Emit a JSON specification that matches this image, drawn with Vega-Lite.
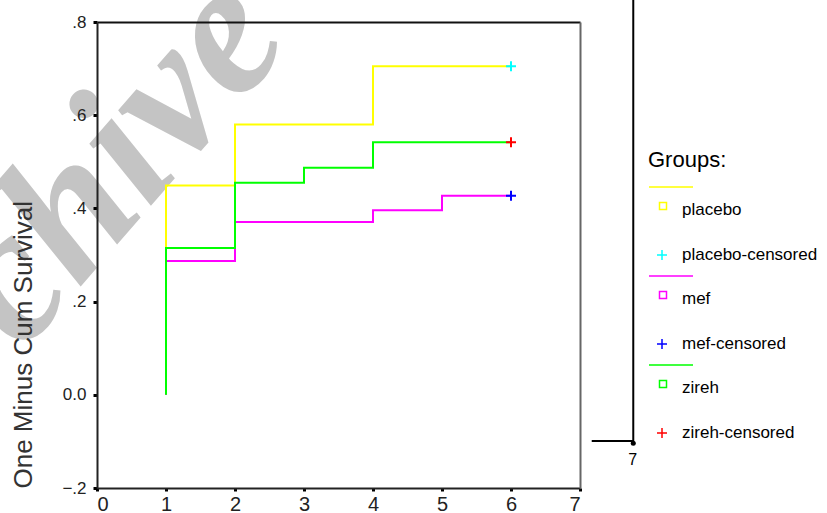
{
  "$schema": "https://vega.github.io/schema/vega-lite/v6.json",
  "autosize": {"type": "none"},
  "width": 483,
  "height": 466,
  "padding": {"left": 97, "top": 22, "right": 247, "bottom": 25},
  "background": "white",
  "config": {"view": {"stroke": null}, "font": "Liberation Sans"},
  "datasets": {
    "steps": [
      {"group": "placebo", "k": 0, "time": 1, "value": 0},
      {"group": "placebo", "k": 1, "time": 1, "value": 0.449},
      {"group": "placebo", "k": 2, "time": 2, "value": 0.58},
      {"group": "placebo", "k": 3, "time": 4, "value": 0.705},
      {"group": "placebo", "k": 4, "time": 6, "value": 0.705},
      {"group": "mef", "k": 0, "time": 1, "value": 0},
      {"group": "mef", "k": 1, "time": 1, "value": 0.287},
      {"group": "mef", "k": 2, "time": 2, "value": 0.371},
      {"group": "mef", "k": 3, "time": 4, "value": 0.396},
      {"group": "mef", "k": 4, "time": 5, "value": 0.427},
      {"group": "mef", "k": 5, "time": 6, "value": 0.427},
      {"group": "zireh", "k": 0, "time": 1, "value": 0},
      {"group": "zireh", "k": 1, "time": 1, "value": 0.315},
      {"group": "zireh", "k": 2, "time": 2, "value": 0.455},
      {"group": "zireh", "k": 3, "time": 3, "value": 0.487},
      {"group": "zireh", "k": 4, "time": 4, "value": 0.542},
      {"group": "zireh", "k": 5, "time": 6, "value": 0.542}
    ],
    "censored": [
      {"item": "placebo-censored", "time": 6, "value": 0.705},
      {"item": "mef-censored", "time": 6, "value": 0.427},
      {"item": "zireh-censored", "time": 6, "value": 0.542}
    ]
  },
  "layer": [
    {
      "data": {"values": [{"label": "Archive"}]},
      "mark": {"type": "text", "font": "Liberation Serif", "fontStyle": "italic", "fontWeight": "bold", "fontSize": 190, "angle": -49, "align": "left", "baseline": "alphabetic", "color": "#c4c4c4", "clip": false},
      "encoding": {
        "x": {"datum": -2.98, "type": "quantitative", "axis": null},
        "y": {"datum": -0.235, "type": "quantitative", "axis": null},
        "text": {"field": "label"}
      }
    },
    {
      "data": {"name": "steps"},
      "mark": {"type": "line", "interpolate": "step-after", "strokeWidth": 2},
      "encoding": {
        "x": {
          "field": "time", "type": "quantitative",
          "scale": {"domain": [0, 7], "nice": false, "zero": false},
          "axis": {"values": [0, 1, 2, 3, 4, 5, 6, 7], "format": "d", "title": null, "grid": false, "domainColor": "#222", "domainWidth": 2, "tickColor": "#000", "tickSize": 3, "tickWidth": 3, "labelFontSize": 20, "labelColor": "#222", "labelPadding": 3, "zindex": 1}
        },
        "y": {
          "field": "value", "type": "quantitative",
          "scale": {"domain": [-0.2, 0.8], "nice": false, "zero": false},
          "axis": {"values": [-0.2, 0, 0.2, 0.4, 0.6, 0.8], "labelExpr": "datum.value == 0 ? '0.0' : replace(format(datum.value, '.1f'), '0.', '.')", "title": "One Minus Cum Survival", "titleFontSize": 26, "titleFontWeight": "normal", "titleColor": "#333", "titleAnchor": "start", "titlePadding": 25, "grid": false, "domainColor": "#222", "domainWidth": 2, "tickColor": "#000", "tickSize": 4, "tickWidth": 3, "labelFontSize": 17, "labelColor": "#222", "labelPadding": 7, "zindex": 1}
        },
        "stroke": {"field": "group", "type": "nominal", "scale": {"domain": ["placebo", "mef", "zireh"], "range": ["#ffff00", "#ff00ff", "#00ff00"]}, "legend": null},
        "order": {"field": "k"}
      }
    },
    {
      "data": {"name": "censored"},
      "mark": {"type": "point", "filled": false, "size": 400, "strokeWidth": 2, "opacity": 1},
      "encoding": {
        "x": {"field": "time", "type": "quantitative", "axis": {"orient": "top", "labels": false, "ticks": false, "title": null, "grid": false, "domainColor": "#111", "domainWidth": 2, "zindex": 1}},
        "y": {"field": "value", "type": "quantitative", "axis": {"orient": "right", "labels": false, "ticks": false, "title": null, "grid": false, "domainColor": "#666", "domainWidth": 2, "zindex": 1}},
        "color": {
          "field": "item", "type": "nominal",
          "scale": {"domain": ["placebo", "placebo-censored", "mef", "mef-censored", "zireh", "zireh-censored"], "range": ["#ffff00", "#00ffff", "#ff00ff", "#0000ff", "#00ff00", "#ff0000"]},
          "legend": {"orient": "none", "legendX": 551, "legendY": 128, "title": "Groups:", "titleFontSize": 22, "titleFontWeight": "normal", "titleColor": "#000", "titlePadding": 27, "labelFontSize": 17, "labelColor": "#000", "labelOffset": 9, "symbolSize": 400, "symbolOffset": 3, "symbolStrokeWidth": 1.5, "rowPadding": 10, "symbolOpacity": 1}
        },
        "shape": {
          "field": "item", "type": "nominal",
          "scale": {"domain": ["placebo", "placebo-censored", "mef", "mef-censored", "zireh", "zireh-censored"], "range": ["M-0.25,-0.75H0.45V-0.05H-0.25ZM-1.3,-2.3H3.1", "M-0.5,0H0.5M0,-0.5V0.5M0,-2.38M0,-2.38", "M-0.25,-0.75H0.45V-0.05H-0.25ZM-1.3,-2.3H3.1", "M-0.5,0H0.5M0,-0.5V0.5M0,-2.38M0,-2.38", "M-0.25,-0.75H0.45V-0.05H-0.25ZM-1.3,-2.3H3.1", "M-0.5,0H0.5M0,-0.5V0.5M0,-2.38M0,-2.38"]},
          "legend": {"orient": "none", "legendX": 551, "legendY": 128, "title": "Groups:", "titleFontSize": 22, "titleFontWeight": "normal", "titleColor": "#000", "titlePadding": 27, "labelFontSize": 17, "labelColor": "#000", "labelOffset": 9, "symbolSize": 400, "symbolOffset": 3, "symbolStrokeWidth": 1.5, "rowPadding": 10, "symbolOpacity": 1}
        }
      }
    },
    {
      "data": {"values": [{"a": 1}]},
      "mark": {"type": "rule", "color": "#000", "strokeWidth": 2, "clip": false},
      "encoding": {
        "x": {"datum": 7.772, "type": "quantitative", "axis": null},
        "y": {"datum": 0.9, "type": "quantitative", "axis": null},
        "y2": {"datum": -0.099}
      }
    },
    {
      "data": {"values": [{"a": 1}]},
      "mark": {"type": "rule", "color": "#000", "strokeWidth": 2, "clip": false},
      "encoding": {
        "x": {"datum": 7.17, "type": "quantitative", "axis": null},
        "x2": {"datum": 7.772},
        "y": {"datum": -0.099, "type": "quantitative", "axis": null}
      }
    },
    {
      "data": {"values": [{"t": "7"}]},
      "mark": {"type": "point", "filled": true, "color": "#000", "size": 25, "opacity": 1, "clip": false},
      "encoding": {
        "x": {"datum": 7.772, "type": "quantitative", "axis": null},
        "y": {"datum": -0.104, "type": "quantitative", "axis": null}
      }
    },
    {
      "data": {"values": [{"t": "7"}]},
      "mark": {"type": "text", "fontSize": 16, "color": "#000", "baseline": "middle", "align": "center", "clip": false},
      "encoding": {
        "x": {"datum": 7.765, "type": "quantitative", "axis": null},
        "y": {"datum": -0.14, "type": "quantitative", "axis": null},
        "text": {"field": "t"}
      }
    }
  ],
  "resolve": {"axis": {"x": "independent", "y": "independent"}}
}
